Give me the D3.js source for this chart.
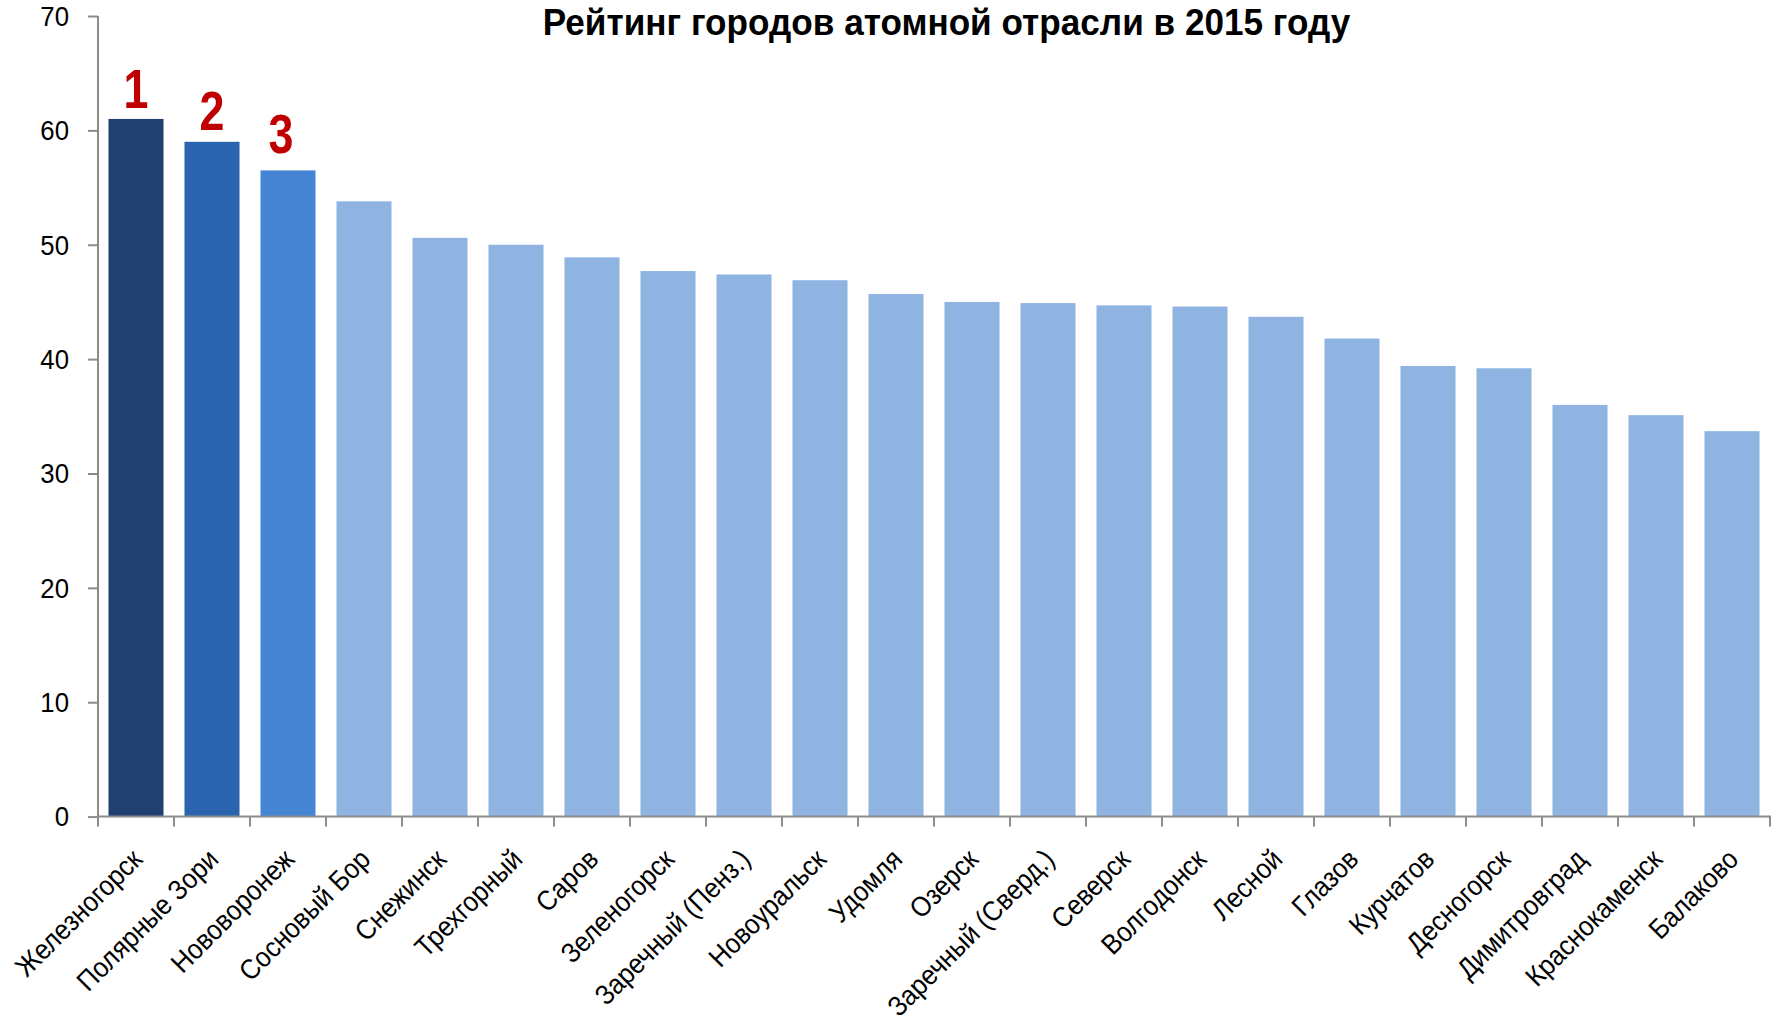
<!DOCTYPE html>
<html>
<head>
<meta charset="utf-8">
<script src="https://cdn.jsdelivr.net/npm/d3@7"></script>
<style>
  html, body { margin: 0; padding: 0; background: #fff; }
  svg { display: block; }
  text { font-family: "Liberation Sans", Arial, sans-serif; fill: #000; }
</style>
</head>
<body>
<script>
const title = "Рейтинг городов атомной отрасли в 2015 году";
const cities = ["Железногорск", "Полярные Зори", "Нововоронеж", "Сосновый Бор", "Снежинск",
  "Трехгорный", "Саров", "Зеленогорск", "Заречный (Пенз.)", "Новоуральск", "Удомля", "Озерск",
  "Заречный (Сверд.)", "Северск", "Волгодонск", "Лесной", "Глазов", "Курчатов", "Десногорск",
  "Димитровград", "Краснокаменск", "Балаково"];
const scores = [61.0, 59.0, 56.5, 53.8, 50.6, 50.0, 48.9, 47.7, 47.4, 46.9, 45.7, 45.0,
  44.9, 44.7, 44.6, 43.7, 41.8, 39.4, 39.2, 36.0, 35.1, 33.7];
const rankLabels = ["1", "2", "3"];
const yTicks = [0, 10, 20, 30, 40, 50, 60, 70];

const W = 1777, H = 1024;
const topColors = ["#1F4070", "#2A64AE", "#4685D3"];
const baseColor = "#8FB4E2";
const axisColor = "#8C8C8C";
// small manual nudges of the rank labels (layout only)
const rankDx = [0, 0, -7];
const rankGap = [11, 12, 17];

const svg = d3.select("body").append("svg").attr("width", W).attr("height", H);
svg.append("rect").attr("width", W).attr("height", H).attr("fill", "#fff");

const x = d3.scaleBand().domain(cities).range([98, 1770]).paddingInner(0.276).paddingOuter(0.138);
const y = d3.scaleLinear().domain([0, 70]).range([816.6, 16]);

// bars
svg.append("g").selectAll("rect").data(cities).join("rect")
  .attr("x", d => x(d))
  .attr("y", (d, i) => y(scores[i]))
  .attr("width", x.bandwidth())
  .attr("height", (d, i) => y(0) - y(scores[i]))
  .attr("fill", (d, i) => i < topColors.length ? topColors[i] : baseColor);

// y axis
const yAxis = svg.append("g").attr("transform", "translate(98,0)")
  .call(d3.axisLeft(y).tickValues(yTicks).tickSize(10).tickPadding(0).tickFormat(d3.format("d")));
yAxis.select(".domain").attr("stroke", axisColor).attr("stroke-width", 2)
  .attr("d", `M0,${y(70)}V${y(0)}`);
yAxis.selectAll(".tick line").attr("stroke", axisColor).attr("stroke-width", 2);
yAxis.selectAll(".tick text")
  .attr("x", null).attr("dy", null)
  .attr("font-size", 28).attr("font-family", '"Liberation Sans", Arial, sans-serif')
  .attr("fill", "#000").attr("text-anchor", "end").attr("dominant-baseline", "central")
  .attr("transform", "translate(-29,0) scale(0.92,1)");

// x axis line and boundary ticks
const xg = svg.append("g");
xg.append("line").attr("x1", 98).attr("x2", 1771).attr("y1", y(0)).attr("y2", y(0))
  .attr("stroke", axisColor).attr("stroke-width", 2);
const bounds = d3.range(cities.length + 1).map(i => x.range()[0] + i * x.step());
xg.selectAll("line.tk").data(bounds).join("line").attr("class", "tk")
  .attr("x1", d => d).attr("x2", d => d)
  .attr("y1", y(0)).attr("y2", y(0) + 10)
  .attr("stroke", axisColor).attr("stroke-width", 2);

// x labels
xg.selectAll("text").data(cities).join("text")
  .attr("transform", d => `translate(${x(d) + x.bandwidth() / 2 + 8},861) rotate(-45) scale(0.91,1)`)
  .attr("text-anchor", "end")
  .attr("font-size", 28)
  .text(d => d);

// rank labels
svg.append("g").selectAll("text").data(rankLabels).join("text")
  .attr("transform", (d, i) => `translate(${x(cities[i]) + x.bandwidth() / 2 + rankDx[i]},${y(scores[i]) - rankGap[i]}) scale(0.8,1)`)
  .attr("text-anchor", "middle")
  .attr("font-size", 56).attr("font-weight", "bold")
  .style("fill", "#C00000")
  .text(d => d);

// title
svg.append("text")
  .attr("transform", "translate(946.5,34.5) scale(0.95,1)")
  .attr("text-anchor", "middle")
  .attr("font-size", 37).attr("font-weight", "bold")
  .text(title);
</script>
</body>
</html>
